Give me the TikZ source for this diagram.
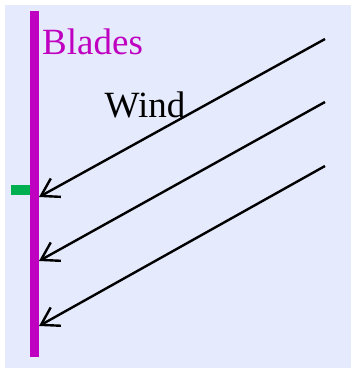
\documentclass[tikz,border=0pt]{standalone}
\usepackage{fontspec}
\setmainfont{Liberation Serif}
\usetikzlibrary{arrows.meta}
\definecolor{bgblue}{HTML}{E5EAFC}
\definecolor{blademag}{HTML}{C000C0}
\definecolor{markgreen}{HTML}{00B050}
\begin{document}
\begin{tikzpicture}[x=1pt,y=-1pt,
  windarrow/.style={line width=2.4pt,-{Straight Barb[length=17pt,width=21pt,line width=2.4pt]}},
  lbl/.style={inner sep=0pt,anchor=base west,font=\fontsize{37}{41}\selectfont}]
\useasboundingbox (0,0) rectangle (351,368);
\fill[bgblue] (5,5) rectangle (351,368);
\fill[markgreen] (11,185) rectangle (34,195);
\draw[blademag,line width=9pt] (34.5,11) coordinate (btop) -- (34.5,357) coordinate (bbot);
\node[lbl,text=blademag] (blades) at (42,54.5) {Blades};
\node[lbl] (wind) at (104.5,117.5) {Wind};
\coordinate (s1) at (325,39);  \coordinate (e1) at (39,197);
\coordinate (s2) at (325,102); \coordinate (e2) at (39,261);
\coordinate (s3) at (325,166); \coordinate (e3) at (39,326);
\draw[windarrow] (s1) -- (e1);
\draw[windarrow] (s2) -- (e2);
\draw[windarrow] (s3) -- (e3);
\end{tikzpicture}
\end{document}
